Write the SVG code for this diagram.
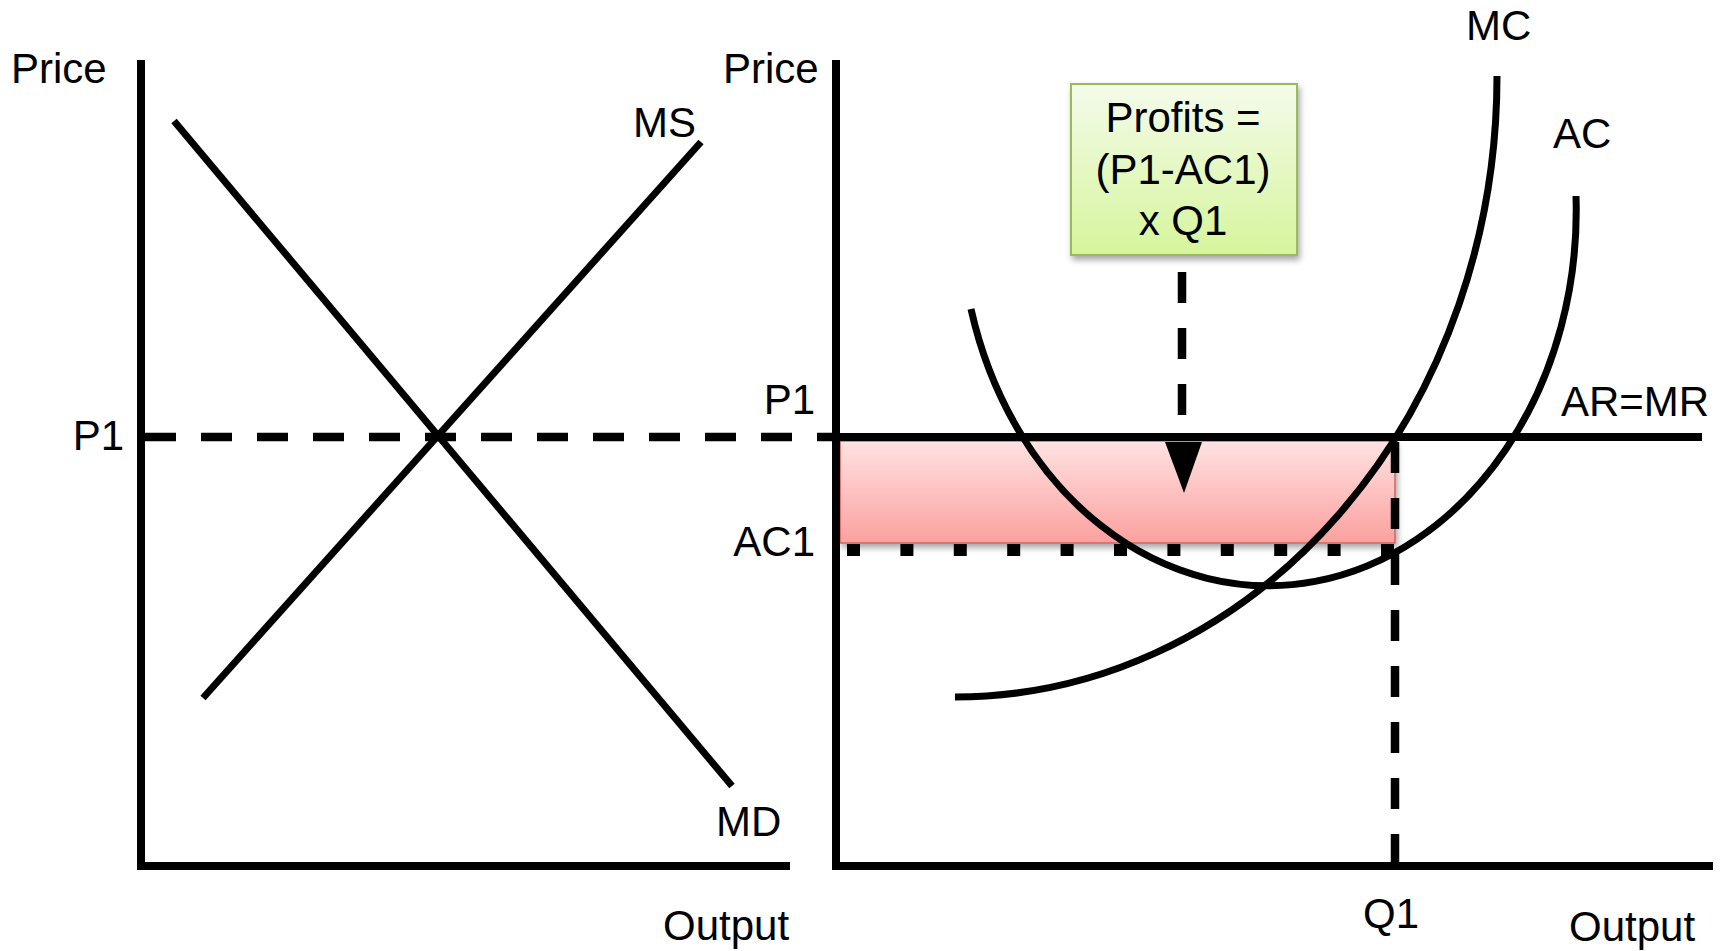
<svg xmlns="http://www.w3.org/2000/svg" width="1725" height="951" viewBox="0 0 1725 951">
  <defs>
    <linearGradient id="pinkGrad" x1="0" y1="0" x2="0" y2="1">
      <stop offset="0" stop-color="#FFE2E2"/>
      <stop offset="1" stop-color="#FBA19F"/>
    </linearGradient>
    <linearGradient id="greenGrad" x1="0" y1="0" x2="0" y2="1">
      <stop offset="0" stop-color="#F4FBEA"/>
      <stop offset="1" stop-color="#D6F59C"/>
    </linearGradient>
    <filter id="shadow" x="-10%" y="-10%" width="130%" height="130%">
      <feDropShadow dx="2" dy="4" stdDeviation="3" flood-color="#000" flood-opacity="0.35"/>
    </filter>
  </defs>
  <style>
    .ax { stroke: #000; stroke-width: 8; fill: none; }
    .ln { stroke: #000; stroke-width: 7; fill: none; }
    .dash { stroke: #000; stroke-width: 8.5; fill: none; stroke-dasharray: 31 25; }
    .dot { stroke: #000; stroke-width: 12; fill: none; stroke-dasharray: 13 40.4; }
    .lbl { font-family: "Liberation Sans", Arial, sans-serif; font-size: 42px; fill: #000; }
    .ctr { text-anchor: middle; }
    .end { text-anchor: end; }
  </style>
  <rect width="1725" height="951" fill="#fff"/>

  <!-- Left market diagram -->
  <g id="left-axes">
    <line class="ax" x1="141" y1="60" x2="141" y2="870"/>
    <line class="ax" x1="137" y1="866" x2="790" y2="866"/>
    <text class="lbl" x="11" y="83">Price</text>
    <text class="lbl" x="663" y="940">Output</text>
  </g>
  <g id="left-p1">
    <line class="dash" x1="145" y1="437" x2="836" y2="437"/>
    <text class="lbl end" x="124" y="450">P1</text>
  </g>
  <g id="md">
    <line class="ln" x1="174" y1="121" x2="732" y2="786"/>
    <text class="lbl" x="716" y="836">MD</text>
  </g>
  <g id="ms">
    <line class="ln" x1="203" y1="698" x2="701" y2="142"/>
    <text class="lbl" x="633" y="137">MS</text>
  </g>

  <!-- Right firm diagram -->
  <g id="profit-area">
    <rect x="840" y="441" width="555" height="102" fill="url(#pinkGrad)" stroke="#D9605E" stroke-width="1.5" filter="url(#shadow)"/>
  </g>
  <g id="right-axes">
    <line class="ax" x1="836" y1="60" x2="836" y2="870"/>
    <line class="ax" x1="832" y1="866" x2="1713" y2="866"/>
    <text class="lbl" x="723" y="83">Price</text>
    <text class="lbl" x="1569" y="941">Output</text>
  </g>
  <g id="ar-mr">
    <line class="ax" x1="836" y1="437" x2="1702" y2="437"/>
    <text class="lbl" x="1561" y="416">AR=MR</text>
    <text class="lbl end" x="815" y="414">P1</text>
  </g>
  <g id="ac1">
    <line class="dot" x1="847" y1="550" x2="1395" y2="550"/>
    <text class="lbl end" x="815" y="556">AC1</text>
  </g>
  <g id="q1">
    <line class="dash" x1="1395" y1="442" x2="1395" y2="866"/>
    <text class="lbl" x="1363" y="928">Q1</text>
  </g>
  <g id="ac">
    <path class="ln" d="M 971 309 A 308 375 0 0 0 1576 196"/>
    <text class="lbl" x="1553" y="148">AC</text>
  </g>
  <g id="mc">
    <path class="ln" d="M 955 697 A 542 621 0 0 0 1497 76"/>
    <text class="lbl" x="1466" y="40">MC</text>
  </g>
  <g id="profit-box">
    <rect x="1071" y="84" width="226" height="171" fill="url(#greenGrad)" stroke="#9BBB59" stroke-width="2" filter="url(#shadow)"/>
    <text class="lbl ctr" x="1183" y="132">Profits =</text>
    <text class="lbl ctr" x="1183" y="184">(P1-AC1)</text>
    <text class="lbl ctr" x="1183" y="235">x Q1</text>
  </g>

  <g id="connectors">
    <line class="dash" x1="1182" y1="272" x2="1182" y2="416" stroke-width="8"/>
    <polygon points="1165,442 1202,442 1184,493" fill="#000"/>
  </g>
</svg>
